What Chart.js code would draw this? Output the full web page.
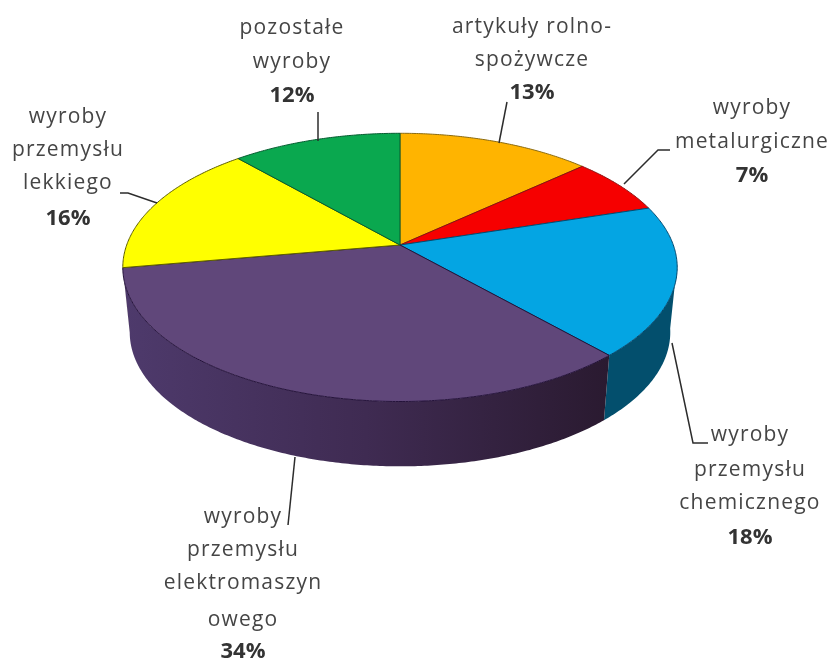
<!DOCTYPE html>
<html>
<head>
<meta charset="utf-8">
<style>
  html, body { margin: 0; padding: 0; background: #fff; }
  canvas { display: block; }
</style>
<script src="https://cdn.jsdelivr.net/npm/chart.js@4/dist/chart.umd.js"></script>
</head>
<body>
<canvas id="pie" width="832" height="662"></canvas>
<script>
const categories = ['artykuły rolno-spożywcze', 'wyroby metalurgiczne', 'wyroby przemysłu chemicznego',
    'wyroby przemysłu elektromaszynowego', 'wyroby przemysłu lekkiego', 'pozostałe wyroby'];
// the labels show them rounded
const shares = [13.3, 6.9, 18.1, 34, 16.1, 11.6];
const topColors = ['#ffb400', '#f60000', '#04a5e3', '#60477a', '#ffff00', '#0aa84f'];
const edgeColors = ['#8a6a10', '#8a1010', '#044a70', '#24123a', '#5c5c00', '#055c30'];
const wallColors = ['#8f6500', '#8f0000', '#034f6d', ['#4e3a6c', '#3f2b52', '#2a1a30'], '#8f8f00', '#056030'];

// label text, one entry per line, the percent goes under it in bold
const labelLines = [
    ['artykuły rolno-', 'spożywcze'],
    ['wyroby', 'metalurgiczne'],
    ['wyroby', 'przemysłu', 'chemicznego'],
    ['wyroby', 'przemysłu', 'elektromaszyn', 'owego'],
    ['wyroby', 'przemysłu', 'lekkiego'],
    ['pozostałe', 'wyroby']
];
const labelCenterX = [532, 752, 750, 243, 68, 292];
const labelLineY = [
    [27, 60, 93],
    [108, 142, 176],
    [435, 470, 503, 538],
    [517, 550, 583, 620, 652],
    [117, 150, 183, 219],
    [28, 62, 96]
];
const leaderLines = [
    [[507, 102], [499, 143]],
    [[670, 150], [658, 150], [624, 184]],
    [[672, 343], [693, 443], [708, 443]],
    [[295, 457], [288, 525]],
    [[120, 193], [128, 193], [157, 203]],
    [[318, 112], [318, 141]]
];

// the look of the 3d pie, all relative to the radius chart.js works out
const rimX = 1.37;
const rimY = 0.6535;
const perspective = 0.167;
const wallDrop = 0.325;
const wallNarrow = 0.975;
const wallFrom = 98 * Math.PI / 180 - Math.PI / 2;
const wallTo = 260.4 * Math.PI / 180 - Math.PI / 2;

function rimPoint(el, angle) {
    const u = Math.cos(angle);
    const v = -Math.sin(angle);
    const den = 1 + perspective * v;
    return {
        x: el.x + rimX * el.outerRadius * u / den,
        y: el.y - rimY * el.outerRadius * v / den
    };
}

function rimPath(el, from, to) {
    const pts = [];
    const steps = Math.max(2, Math.ceil((to - from) / 0.01));
    for (let i = 0; i <= steps; i++) {
        pts.push(rimPoint(el, from + (to - from) * i / steps));
    }
    return pts;
}

class TiltedArc extends Chart.ArcElement {
    static id = 'tiltedArc';

    draw(ctx) {
        const pts = rimPath(this, this.startAngle, this.endAngle);
        ctx.save();
        ctx.beginPath();
        ctx.moveTo(this.x, this.y);
        for (let p of pts) ctx.lineTo(p.x, p.y);
        ctx.closePath();
        ctx.fillStyle = this.options.backgroundColor;
        ctx.fill();
        ctx.strokeStyle = this.options.borderColor;
        ctx.lineWidth = this.options.borderWidth;
        ctx.lineJoin = 'round';
        ctx.stroke();
        ctx.restore();
    }
}

class TiltedPie extends Chart.PieController {
    static id = 'tiltedPie';
    static defaults = { dataElementType: 'tiltedArc' };
}

Chart.register(TiltedArc, TiltedPie);

const wallsPlugin = {
    id: 'walls',
    beforeDatasetsDraw(chart) {
        const ctx = chart.ctx;
        chart.getDatasetMeta(0).data.forEach((el, i) => {
            const from = Math.max(el.startAngle, wallFrom);
            const to = Math.min(el.endAngle, wallTo);
            if (to <= from) return;
            const top = rimPath(el, from, to);
            const drop = wallDrop * el.outerRadius;
            const bottom = top.map(p => ({ x: el.x + (p.x - el.x) * wallNarrow, y: p.y + drop }));

            let fill = wallColors[i];
            if (Array.isArray(fill)) {
                const xs = top.map(p => p.x);
                const g = ctx.createLinearGradient(Math.min(...xs), 0, Math.max(...xs), 0);
                fill.forEach((c, n) => g.addColorStop(n / (fill.length - 1), c));
                fill = g;
            }
            ctx.save();
            ctx.beginPath();
            top.forEach((p, n) => n ? ctx.lineTo(p.x, p.y) : ctx.moveTo(p.x, p.y));
            bottom.reverse().forEach(p => ctx.lineTo(p.x, p.y));
            ctx.closePath();
            ctx.fillStyle = fill;
            ctx.fill();
            ctx.restore();
        });
    }
};

const labelsPlugin = {
    id: 'pieLabels',
    afterDatasetsDraw(chart) {
        const ctx = chart.ctx;
        ctx.save();
        ctx.strokeStyle = '#2c2c2c';
        ctx.lineWidth = 1.5;
        for (let line of leaderLines) {
            ctx.beginPath();
            line.forEach((p, n) => n ? ctx.lineTo(p[0], p[1]) : ctx.moveTo(p[0], p[1]));
            ctx.stroke();
        }
        ctx.textAlign = 'center';
        ctx.textBaseline = 'middle';
        categories.forEach((name, i) => {
            ctx.fillStyle = '#454545';
            ctx.font = '21px "Open Sans"';
            ctx.letterSpacing = '1.2px';
            labelLines[i].forEach((text, n) => {
                ctx.fillText(text, labelCenterX[i], labelLineY[i][n]);
            });
            ctx.fillStyle = '#333333';
            ctx.font = 'bold 22px "Open Sans"';
            ctx.letterSpacing = '0px';
            ctx.fillText(Math.round(shares[i]) + '%', labelCenterX[i], labelLineY[i][labelLines[i].length]);
        });
        ctx.restore();
    }
};

new Chart(document.getElementById('pie'), {
    type: 'tiltedPie',
    data: {
        labels: categories,
        datasets: [{
            data: shares,
            backgroundColor: topColors,
            borderColor: edgeColors,
            borderWidth: 1
        }]
    },
    options: {
        responsive: false,
        devicePixelRatio: 1,
        animation: false,
        layout: { padding: { left: 200, right: 232, top: 45, bottom: 217 } },
        plugins: {
            legend: { display: false },
            tooltip: { enabled: false }
        }
    },
    plugins: [wallsPlugin, labelsPlugin]
});
</script>
</body>
</html>
